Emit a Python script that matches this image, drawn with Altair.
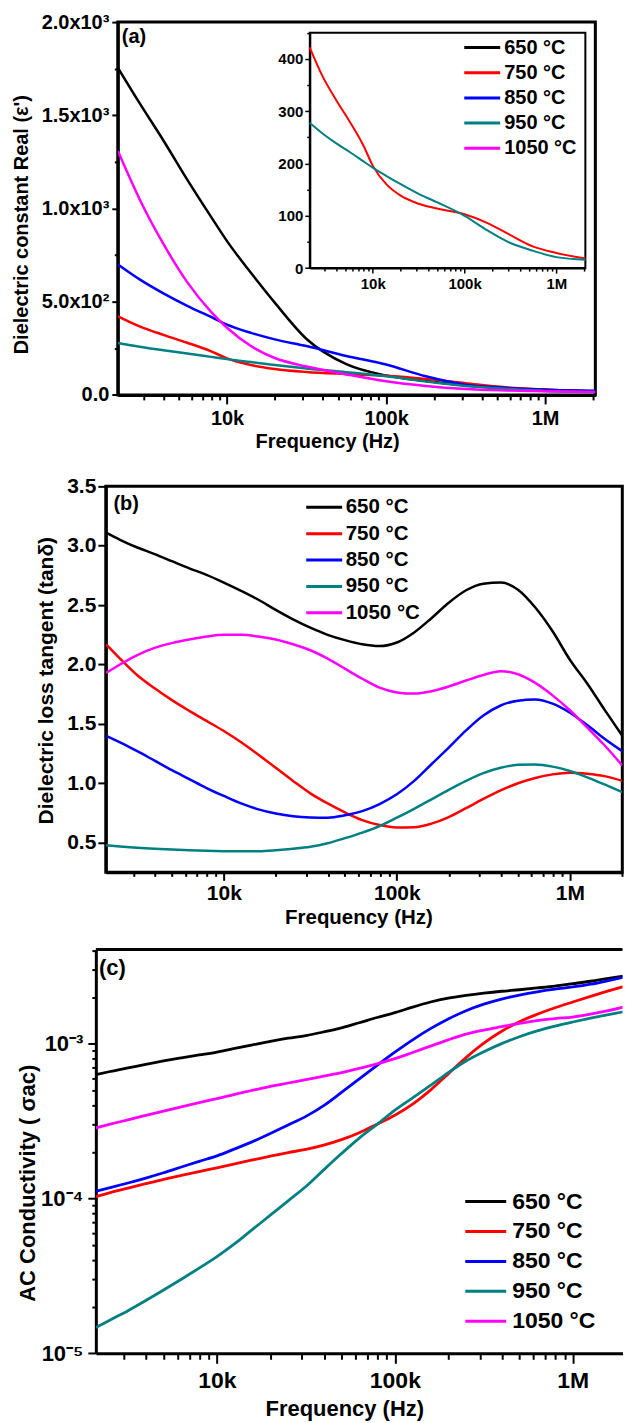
import altair as alt
import pandas as pd

FONT = "Liberation Sans"
SERIES = ["650 °C", "750 °C", "850 °C", "950 °C", "1050 °C"]
COLORS = ["#000000", "#ff0000", "#0000ff", "#008080", "#ff00ff"]

# ---------------- panel (a): real dielectric constant ----------------
FREQ_A = [2060, 2820, 3980, 5620, 7940, 10000, 14130, 19950, 31620, 56230,
          100000, 177800, 316200, 562300, 1000000, 2070000]
EPS_650 = [1755, 1565, 1365, 1155, 955, 825, 655, 495, 300, 165, 104, 75, 52, 37, 27, 20]
EPS_750 = [422, 368, 322, 280, 234, 196, 160, 139, 123, 112, 103, 86, 63, 41, 29, 18.5]
EPS_850 = [700, 620, 545, 478, 418, 377, 333, 298, 262, 209, 163, 100, 55, 38, 28, 22]
EPS_950 = [278, 258, 239, 222, 204, 192, 176, 161, 142, 122, 100, 72, 48, 33, 21, 16]
EPS_1050 = [1308, 1050, 810, 605, 445, 360, 262, 198, 152, 110, 73, 48, 32, 24, 19, 15]

# ---------------- panels (b) and (c) ----------------
FREQ_BC = [2089, 2512, 3162, 3981, 5012, 6310, 7943, 10000, 12590, 15850, 19950,
           25120, 31620, 39810, 50120, 63100, 79430, 100000, 125900, 158500, 199500,
           251200, 316200, 398100, 501200, 631000, 794300, 1000000, 1259000, 1585000, 2009000]

TAN_650 = [3.11, 3.05, 2.985, 2.93, 2.87, 2.81, 2.755, 2.69, 2.62, 2.545, 2.46, 2.38, 2.31,
           2.25, 2.205, 2.17, 2.155, 2.185, 2.27, 2.39, 2.52, 2.625, 2.68, 2.69, 2.63, 2.48,
           2.28, 2.04, 1.84, 1.62, 1.40]
TAN_750 = [2.17, 2.05, 1.91, 1.80, 1.70, 1.61, 1.525, 1.44, 1.345, 1.24, 1.13, 1.02, 0.915,
           0.83, 0.755, 0.69, 0.648, 0.628, 0.63, 0.66, 0.715, 0.79, 0.868, 0.94, 1.0, 1.045,
           1.075, 1.089, 1.08, 1.06, 1.02]
TAN_850 = [1.40, 1.345, 1.27, 1.19, 1.11, 1.035, 0.96, 0.893, 0.83, 0.78, 0.745, 0.722, 0.712,
           0.71, 0.73, 0.765, 0.825, 0.907, 1.02, 1.16, 1.30, 1.445, 1.57, 1.655, 1.695, 1.705,
           1.67, 1.594, 1.49, 1.375, 1.27]
TAN_950 = [0.478, 0.468, 0.458, 0.449, 0.442, 0.436, 0.431, 0.428, 0.427, 0.428, 0.436, 0.448,
           0.465, 0.495, 0.538, 0.585, 0.64, 0.71, 0.785, 0.865, 0.945, 1.02, 1.085, 1.13,
           1.155, 1.158, 1.14, 1.103, 1.05, 0.99, 0.926]
TAN_1050 = [1.93, 2.0, 2.08, 2.14, 2.18, 2.21, 2.235, 2.25, 2.25, 2.235, 2.21, 2.17, 2.12, 2.05,
            1.965, 1.88, 1.805, 1.765, 1.755, 1.775, 1.815, 1.865, 1.912, 1.944, 1.918, 1.845,
            1.74, 1.615, 1.47, 1.32, 1.15]

SIG_650 = [6.31e-4, 6.61e-4, 6.97e-4, 7.35e-4, 7.73e-4, 8.09e-4, 8.45e-4, 8.83e-4, 9.31e-4,
           9.82e-4, 1.035e-3, 1.084e-3, 1.127e-3, 1.19e-3, 1.265e-3, 1.365e-3, 1.476e-3,
           1.585e-3, 1.724e-3, 1.858e-3, 1.968e-3, 2.05e-3, 2.12e-3, 2.18e-3, 2.23e-3, 2.29e-3,
           2.355e-3, 2.44e-3, 2.53e-3, 2.64e-3, 2.75e-3]
SIG_750 = [1.026e-4, 1.091e-4, 1.167e-4, 1.247e-4, 1.33e-4, 1.41e-4, 1.493e-4, 1.578e-4,
           1.671e-4, 1.774e-4, 1.879e-4, 1.98e-4, 2.075e-4, 2.21e-4, 2.4e-4, 2.66e-4, 3.02e-4,
           3.45e-4, 4.07e-4, 5.01e-4, 6.38e-4, 8.13e-4, 1.007e-3, 1.202e-3, 1.387e-3, 1.549e-3,
           1.706e-3, 1.858e-3, 2.02e-3, 2.19e-3, 2.37e-3]
SIG_850 = [1.114e-4, 1.175e-4, 1.259e-4, 1.355e-4, 1.466e-4, 1.596e-4, 1.738e-4, 1.884e-4,
           2.09e-4, 2.33e-4, 2.63e-4, 2.985e-4, 3.39e-4, 3.98e-4, 4.84e-4, 5.92e-4, 7.24e-4,
           8.81e-4, 1.059e-3, 1.25e-3, 1.445e-3, 1.633e-3, 1.8e-3, 1.941e-3, 2.06e-3, 2.163e-3,
           2.249e-3, 2.323e-3, 2.421e-3, 2.553e-3, 2.71e-3]
SIG_950 = [1.466e-5, 1.64e-5, 1.884e-5, 2.19e-5, 2.56e-5, 3.01e-5, 3.55e-5, 4.21e-5, 5.1e-5,
           6.31e-5, 7.8e-5, 9.66e-5, 1.194e-4, 1.53e-4, 1.95e-4, 2.455e-4, 3.01e-4, 3.72e-4,
           4.47e-4, 5.37e-4, 6.5e-4, 7.73e-4, 8.87e-4, 1.0e-3, 1.109e-3, 1.208e-3, 1.297e-3,
           1.38e-3, 1.462e-3, 1.542e-3, 1.622e-3]
SIG_1050 = [2.86e-4, 3.02e-4, 3.22e-4, 3.44e-4, 3.67e-4, 3.91e-4, 4.16e-4, 4.42e-4, 4.7e-4,
            5.0e-4, 5.3e-4, 5.57e-4, 5.85e-4, 6.17e-4, 6.5e-4, 6.92e-4, 7.41e-4, 8.0e-4,
            8.77e-4, 9.64e-4, 1.059e-3, 1.153e-3, 1.225e-3, 1.288e-3, 1.352e-3, 1.41e-3,
            1.452e-3, 1.486e-3, 1.55e-3, 1.633e-3, 1.74e-3]

# ---------------- tick values and labels ----------------
X_MAJOR = [10000, 100000, 1000000]
X_LABELS = ["10k", "100k", "1M"]
X_MINOR = [3000, 4000, 5000, 6000, 7000, 8000, 9000,
           20000, 30000, 40000, 50000, 60000, 70000, 80000, 90000,
           200000, 300000, 400000, 500000, 600000, 700000, 800000, 900000]
X_MINOR_END = [2000000]

YA_MAJOR = [0, 500, 1000, 1500, 2000]
YA_LABELS = ["0.0", "5.0x10²", "1.0x10³", "1.5x10³", "2.0x10³"]
YA_MINOR = [250, 750, 1250, 1750]

YI_MAJOR = [0, 100, 200, 300, 400]
YI_LABELS = ["0", "100", "200", "300", "400"]
YI_MINOR = [50, 150, 250, 350, 450]

YB_MAJOR = [0.5, 1.0, 1.5, 2.0, 2.5, 3.0, 3.5]

YC_MAJOR = [1e-5, 1e-4, 1e-3]
YC_LABELS = ["10⁻⁵", "10⁻⁴", "10⁻³"]
YC_MINOR = [2e-5, 3e-5, 4e-5, 5e-5, 6e-5, 7e-5, 8e-5, 9e-5,
            2e-4, 3e-4, 4e-4, 5e-4, 6e-4, 7e-4, 8e-4, 9e-4,
            2e-3, 3e-3, 4e-3]


def long_frame(freq, names, columns):
    rows = []
    for name, vals in zip(names, columns):
        for f, v in zip(freq, vals):
            rows.append({"freq": f, "series": name, "value": v})
    return pd.DataFrame(rows)


def near(v):
    if v == 0:
        return "(abs(datum.value) < 1e-9)"
    return f"(abs(datum.value / {v!r} - 1) < 1e-6)"


def label_expr(values, labels):
    expr = "''"
    for v, lab in reversed(list(zip(values, labels))):
        expr = f"{near(v)} ? '{lab}' : ({expr})"
    return expr


def tick_size(major, big, small):
    test = " || ".join(near(v) for v in major)
    return {"condition": {"test": test, "value": big}, "value": small}


def color_enc(legend):
    return alt.Color("series:N", scale=alt.Scale(domain=SERIES, range=COLORS),
                     sort=SERIES, legend=legend)


def make_legend(x, y, size, font_size, label_offset, row_padding):
    return alt.Legend(orient="none", legendX=x, legendY=y, title=None, padding=0,
                      symbolType="M-2,0H2", symbolSize=size, symbolStrokeWidth=3,
                      labelFont=FONT, labelFontSize=font_size, labelFontWeight="bold",
                      labelColor="black", labelOffset=label_offset, rowPadding=row_padding)


TINY = pd.DataFrame({"k": [0]})


def pin(left, top, bottom):
    # invisible layout helper: fixes the extent of each panel's bounds
    return alt.Chart(TINY).mark_rule(color="white", strokeWidth=1).encode(
        x=alt.value(-left + 0.5), x2=alt.value(-left + 0.5),
        y=alt.value(-top + 0.5), y2=alt.value(bottom - 0.5))


def spacer():
    return alt.Chart(TINY).mark_text(text="").encode(x=alt.value(0), y=alt.value(0)).properties(
        width=1, height=1, view=alt.ViewBackground(strokeWidth=0, strokeOpacity=0))


# ================= panel (a) =================
WA, HA = 478.3, 373.4
df_a = long_frame(FREQ_A, SERIES, [EPS_650, EPS_750, EPS_850, EPS_950, EPS_1050])
df_inset = long_frame(FREQ_A, [SERIES[1], SERIES[3]], [EPS_750, EPS_950])
LEG_A = make_legend(472.5, 15, 324, 20, 11.5, 4.2)

xa_axis = alt.Axis(values=X_MAJOR + X_MINOR + X_MINOR_END, labelExpr=label_expr(X_MAJOR, X_LABELS),
                   tickSize=tick_size(X_MAJOR, 9, 5), labelPadding=5, labelFontSize=20,
                   title="Frequency (Hz)", titleFontSize=20, titleX=209.7, titleY=52.3,
                   titleAlign="center", titleBaseline="alphabetic", titleAngle=0)
ya_axis = alt.Axis(values=YA_MAJOR + YA_MINOR, labelExpr=label_expr(YA_MAJOR, YA_LABELS),
                   tickSize=tick_size(YA_MAJOR, 6, 3.5), labelPadding=3, labelFontSize=20,
                   title="Dielectric constant Real (ε')", titleFontSize=20, titleX=-90,
                   titleY=202.4, titleAngle=270, titleAlign="center", titleBaseline="alphabetic")

lines_a = alt.Chart(df_a).mark_line(clip=True, interpolate="monotone", strokeWidth=2.5).encode(
    x=alt.X("freq:Q", scale=alt.Scale(type="log", domain=[2057, 2070000], nice=False), axis=xa_axis),
    y=alt.Y("value:Q", scale=alt.Scale(domain=[0, 2000], nice=False, zero=False), axis=ya_axis),
    color=color_enc(LEG_A),
)
tag_a = alt.Chart(TINY).mark_text(text="(a)", align="left", baseline="alphabetic", font=FONT,
                                  fontWeight="bold", fontSize=20, color="black").encode(
    x=alt.X(datum=2180), y=alt.Y(datum=1889))
main_a = alt.layer(lines_a, tag_a)

xi_axis = alt.Axis(orient="bottom", offset=-127, values=X_MAJOR + X_MINOR + X_MINOR_END,
                   labelExpr=label_expr(X_MAJOR, X_LABELS), tickSize=tick_size(X_MAJOR, 5, 3),
                   labelPadding=3, labelFontSize=15, domainWidth=2, tickWidth=1.5, title=None)
yi_axis = alt.Axis(orient="left", offset=-192.3, values=YI_MAJOR + YI_MINOR,
                   labelExpr=label_expr(YI_MAJOR, YI_LABELS), tickSize=tick_size(YI_MAJOR, 5, 3),
                   labelPadding=2, labelFontSize=15, domainWidth=2, tickWidth=1.5, title=None)
INSET_X = [2066, 2066000]
INSET_Y = [0, 450]
inset_lines = alt.Chart(df_inset).mark_line(clip=True, interpolate="monotone", strokeWidth=2).encode(
    x=alt.X("freq:Q", scale=alt.Scale(type="log", domain=INSET_X, range=[192.3, 468.3], nice=False),
            axis=xi_axis),
    y=alt.Y("value:Q", scale=alt.Scale(domain=INSET_Y, range=[246.4, 10.7], nice=False, zero=False),
            axis=yi_axis),
    color=color_enc(LEG_A),
)
inset_box = alt.Chart(TINY).mark_rect(filled=False, stroke="black", strokeWidth=2).encode(
    x=alt.X(datum=INSET_X[0]), x2=alt.X2(datum=INSET_X[1]),
    y=alt.Y(datum=INSET_Y[0]), y2=alt.Y2(datum=INSET_Y[1]))
inset = alt.layer(inset_box, inset_lines)

panel_a = alt.layer(main_a, inset, pin(115, 19, 437)).resolve_scale(
    x="independent", y="independent").properties(width=WA, height=HA)

# ================= panel (b) =================
WB, HB = 517.3, 386.6
df_b = long_frame(FREQ_BC, SERIES, [TAN_650, TAN_750, TAN_850, TAN_950, TAN_1050])
xb_axis = alt.Axis(values=X_MAJOR + X_MINOR + X_MINOR_END, labelExpr=label_expr(X_MAJOR, X_LABELS),
                   tickSize=tick_size(X_MAJOR, 8, 4), labelPadding=2, labelFontSize=21,
                   title="Frequency (Hz)", titleFontSize=20.5, titleX=253, titleY=51.7,
                   titleAlign="center", titleBaseline="alphabetic", titleAngle=0)
yb_axis = alt.Axis(values=YB_MAJOR, format=".1f", tickSize=8, labelPadding=2, labelFontSize=21,
                   title="Dielectric loss tangent (tanδ)", titleFontSize=21, titleX=-53.9,
                   titleY=194.1, titleAngle=270, titleAlign="center", titleBaseline="alphabetic")
lines_b = alt.Chart(df_b).mark_line(clip=True, interpolate="monotone", strokeWidth=2.5).encode(
    x=alt.X("freq:Q", scale=alt.Scale(type="log", domain=[2080, 2009000], nice=False), axis=xb_axis),
    y=alt.Y("value:Q", scale=alt.Scale(domain=[0.25, 3.5], nice=False, zero=False), axis=yb_axis),
    color=color_enc(make_legend(314.2, 10.5, 324, 20.5, 11.1, 5.4)),
)
tag_b = alt.Chart(TINY).mark_text(text="(b)", align="left", baseline="alphabetic", font=FONT,
                                  fontWeight="bold", fontSize=20, color="black").encode(
    x=alt.X(datum=2300), y=alt.Y(datum=3.3))
panel_b = alt.layer(lines_b, tag_b, pin(103, 24, 447)).properties(width=WB, height=HB)

# ================= panel (c) =================
WC, HC = 527.5, 404.3
df_c = long_frame(FREQ_BC, SERIES, [SIG_650, SIG_750, SIG_850, SIG_950, SIG_1050])
xc_axis = alt.Axis(values=X_MAJOR + X_MINOR, labelExpr=label_expr(X_MAJOR, X_LABELS),
                   tickSize=tick_size(X_MAJOR, 10, 6), labelPadding=6.5, labelFontSize=23,
                   title="Frequency (Hz)", titleFontSize=22, titleX=248.8, titleY=62.5,
                   titleAlign="center", titleBaseline="alphabetic", titleAngle=0)
yc_axis = alt.Axis(values=YC_MAJOR + YC_MINOR, labelExpr=label_expr(YC_MAJOR, YC_LABELS),
                   tickSize=tick_size(YC_MAJOR, 8, 4), labelPadding=5, labelFontSize=22,
                   title="AC Conductivity ( σac)", titleFontSize=22, titleX=-61.9,
                   titleY=233.5, titleAngle=270, titleAlign="center", titleBaseline="alphabetic")
lines_c = alt.Chart(df_c).mark_line(clip=True, interpolate="monotone", strokeWidth=2.8).encode(
    x=alt.X("freq:Q", scale=alt.Scale(type="log", domain=[2086, 1903000], nice=False), axis=xc_axis),
    y=alt.Y("value:Q", scale=alt.Scale(type="log", domain=[1e-5, 4.05e-3], nice=False), axis=yc_axis),
    color=color_enc(make_legend(474.5, 240.3, 420, 23, 14.5, 6)),
)
tag_c = alt.Chart(TINY).mark_text(text="(c)", align="left", baseline="alphabetic", font=FONT,
                                  fontWeight="bold", fontSize=22, color="black").encode(
    x=alt.X(datum=2171), y=alt.Y(datum=2.79e-3))
top_edge = alt.Chart(TINY).mark_rule(color="black", strokeWidth=3).encode(
    x=alt.value(0), x2=alt.value(WC), y=alt.value(0))
panel_c = alt.layer(lines_c, tag_c, top_edge, pin(95, 15, 469)).properties(
    width=WC, height=HC, view=alt.ViewBackground(strokeOpacity=0))

row_a = alt.hconcat(spacer(), panel_a, spacing=0)
row_b = alt.hconcat(spacer(), panel_b, spacing=0)
row_c = alt.hconcat(spacer(), panel_c, spacing=0)

chart = alt.vconcat(row_a, row_b, row_c, spacing=0).resolve_scale(
    color="independent").properties(padding=0).configure_view(
    stroke="black", strokeWidth=3).configure_axis(
    domainColor="black", domainWidth=3, tickColor="black", tickWidth=2, labelColor="black",
    labelFont=FONT, labelFontWeight="bold", titleFont=FONT, titleFontWeight="bold",
    titleColor="black", grid=False, labelOverlap=False, labelFlush=False, labelAngle=0)

chart.save("out.html", embed_options={"renderer": "svg", "actions": False})
